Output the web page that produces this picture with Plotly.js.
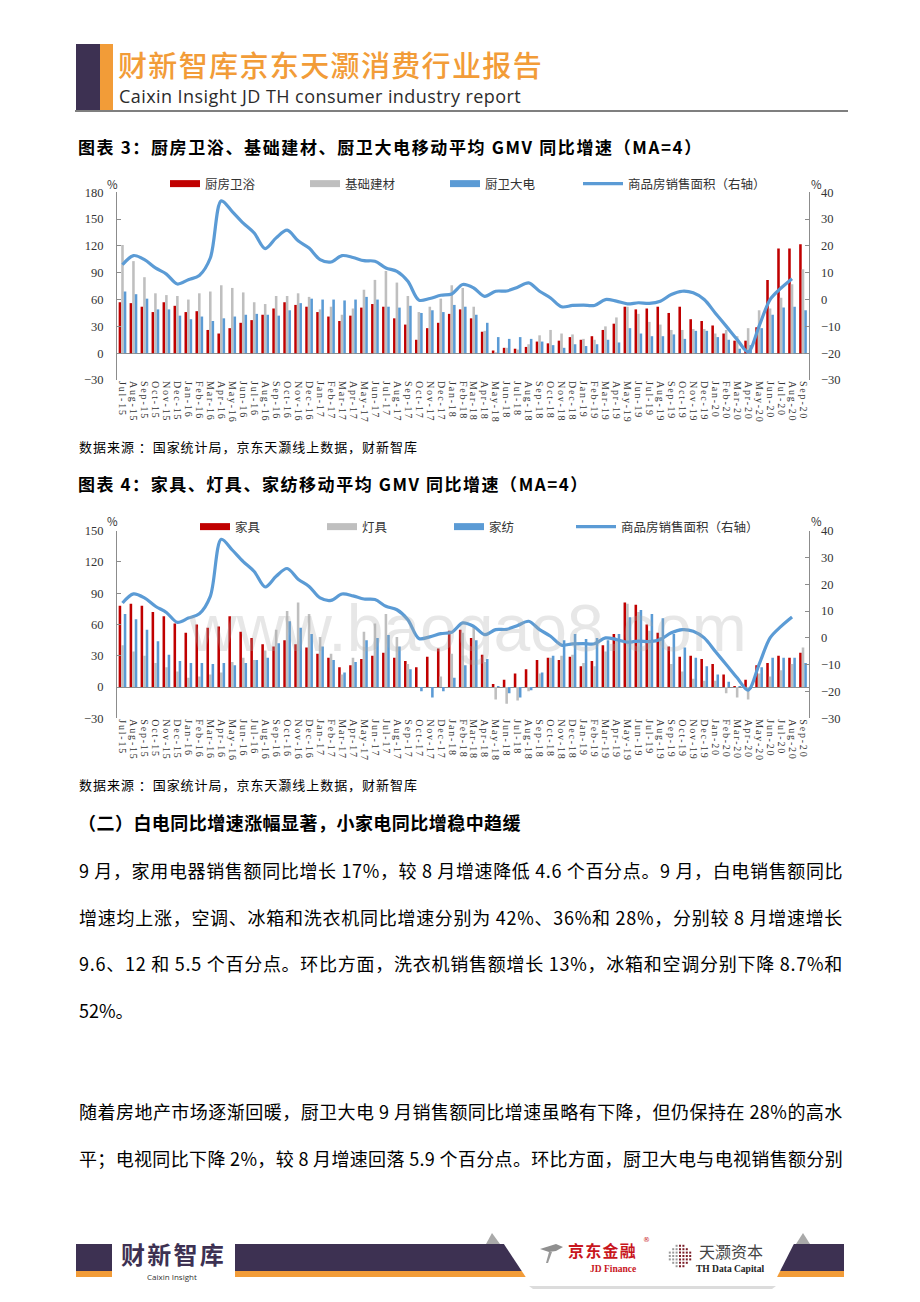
<!DOCTYPE html>
<html>
<head>
<meta charset="utf-8">
<script src="https://cdn.plot.ly/plotly-3.0.1.min.js"></script>
<style>
html,body{margin:0;padding:0;background:#fff;}
#page{width:920px;height:1302px;}
.xtick text, .x2tick text{letter-spacing:1.8px;}
</style>
</head>
<body>
<div id="page"></div>
<script>
// ---------------- data ----------------
const months = ["Jul-15","Aug-15","Sep-15","Oct-15","Nov-15","Dec-15",
  "Jan-16","Feb-16","Mar-16","Apr-16","May-16","Jun-16","Jul-16","Aug-16","Sep-16","Oct-16","Nov-16","Dec-16",
  "Jan-17","Feb-17","Mar-17","Apr-17","May-17","Jun-17","Jul-17","Aug-17","Sep-17","Oct-17","Nov-17","Dec-17",
  "Jan-18","Feb-18","Mar-18","Apr-18","May-18","Jun-18","Jul-18","Aug-18","Sep-18","Oct-18","Nov-18","Dec-18",
  "Jan-19","Feb-19","Mar-19","Apr-19","May-19","Jun-19","Jul-19","Aug-19","Sep-19","Oct-19","Nov-19","Dec-19",
  "Jan-20","Feb-20","Mar-20","Apr-20","May-20","Jun-20","Jul-20","Aug-20","Sep-20"];

// chart 3 (left axis, %)
const kitchenBath = [57,56,52,46,57,53, 46,47,26,22,28,34,37,43,50,57,54,52,
  46,41,36,42,51,55,52,39,32,15,28,34, 44,49,39,24,3,6,5,7,13,11,14,18,
  15,19,26,33,52,49,50,52,45,52,38,36, 31,22,14,14,29,82,117,117,122];
const buildingMaterials = [121,103,85,67,65,64, 60,67,69,76,73,68,57,55,64,64,67,63,
  49,52,43,50,71,82,92,79,64,46,52,61, 76,73,52,25,1,6,4,10,20,26,22,21,
  16,15,30,40,52,44,35,32,26,26,27,27, 22,26,19,28,48,50,62,77,94];
const kitchenAppliances = [69,66,61,49,49,42, 38,41,36,39,41,43,44,43,42,48,56,61,
  60,60,59,60,63,60,52,51,53,45,48,46, 54,52,43,34,18,16,18,16,13,9,6,10,
  8,10,15,12,28,22,19,19,21,16,25,25, 18,15,5,9,28,43,51,52,48];

// chart 4 (left axis, %)
const furniture = [78,80,78,72,68,61, 52,60,57,58,68,53,47,41,39,45,41,38,
  32,28,19,21,27,30,33,28,25,19,29,37, 54,55,47,31,3,7,13,17,26,28,26,29,
  20,25,40,51,81,79,60,52,39,29,30,27, 22,12,1,7,21,23,30,28,33];
const lighting = [40,34,30,23,19,15, 9,10,12,14,24,28,26,35,55,73,81,70,
  48,32,12,28,53,61,70,48,22,0,0,10, 32,52,58,24,-12,-16,-13,-4,13,28,30,31,
  23,20,34,46,80,72,54,48,22,15,8,6, 6,-6,-10,-12,13,10,16,22,38];
const homeTextiles = [70,65,55,44,31,25, 23,23,22,23,21,23,26,28,42,63,57,51,
  39,26,14,24,45,47,50,39,17,-4,-10,-4, 9,21,45,27,1,-6,-10,-3,14,30,45,51,
  46,47,45,51,67,74,70,66,51,38,28,20, 12,5,1,-2,19,28,28,28,23];

// commercial housing sales area (right axis, %)
const housingArea = [13,16.4,14.9,11.8,9.5,5.8, 7.4,9,15.5,36.8,32.8,28.5,24.8,19,23,25.9,21.9,19.2,
  14.9,14,16.4,15.7,14.5,14.3,11.8,10.5,6.8,-0.2,0.4,1.6, 2.1,5.6,4.3,1.2,3.1,3.2,4.6,6.2,3.1,0.6,-2.7,-2.2,
  -2.1,-2.2,0,-0.6,-1.6,-1.2,-1.4,-0.6,1.9,3.1,2.5,0, -5,-9.9,-14.9,-19.5,-9.9,0,4.3,7.8,null];

const names1 = ["厨房卫浴","基础建材","厨卫大电"];
const names2 = ["家具","灯具","家纺"];
const lineName = "商品房销售面积（右轴）";
const leftTicks1 = [-30,0,30,60,90,120,150,180];
const leftTicks2 = [-30,0,30,60,90,120,150];
const rightTicks = [-30,-20,-10,0,10,20,30,40];

// ---------------- styling ----------------
const W = 920, H = 1302;
const X = p => p / W, Y = p => 1 - p / H;
const RED = "#C00000", GRAY = "#BFBFBF", BLUE = "#5B9BD5";
const AX = "#8c8c8c";
const CJK = "Noto Sans CJK SC";
const SERIF = "Liberation Serif";

function bar(y, name, color, xa, ya) {
  return {type:"bar", x:months, y:y, name:name, marker:{color:color}, xaxis:xa, yaxis:ya,
          showlegend:false, hoverinfo:"skip"};
}
function legendOnly(name, color, width, xa, ya, leg) {
  return {type:"scatter", mode:"lines", x:[months[0]], y:[null], name:name,
          line:{color:color, width:width}, xaxis:xa, yaxis:ya, legend:leg, hoverinfo:"skip"};
}
function houseLine(xa, ya, leg) {
  return {type:"scatter", mode:"lines", x:months, y:housingArea, name:lineName,
          line:{color:BLUE, width:3.2, shape:"spline", smoothing:0.9}, connectgaps:false,
          xaxis:xa, yaxis:ya, legend:leg, hoverinfo:"skip"};
}

const data = [
  bar(kitchenBath, names1[0], RED, "x", "y"),
  bar(buildingMaterials, names1[1], GRAY, "x", "y"),
  bar(kitchenAppliances, names1[2], BLUE, "x", "y"),
  legendOnly(names1[0], RED, 7, "x", "y", "legend"),
  legendOnly(names1[1], GRAY, 7, "x", "y", "legend"),
  legendOnly(names1[2], BLUE, 7, "x", "y", "legend"),
  houseLine("x", "y2", "legend3"),

  bar(furniture, names2[0], RED, "x2", "y3"),
  bar(lighting, names2[1], GRAY, "x2", "y3"),
  bar(homeTextiles, names2[2], BLUE, "x2", "y3"),
  legendOnly(names2[0], RED, 7, "x2", "y3", "legend2"),
  legendOnly(names2[1], GRAY, 7, "x2", "y3", "legend2"),
  legendOnly(names2[2], BLUE, 7, "x2", "y3", "legend2"),
  houseLine("x2", "y4", "legend4")
];

function xAxis(anchor) {
  return {domain:[X(117), X(808.5)], anchor:anchor, type:"category",
          tickmode:"array", tickvals:months, ticktext:months, tickangle:90,
          tickfont:{family:SERIF, size:10, color:"#333"},
          showline:false, showgrid:false, zeroline:false, ticks:"", fixedrange:true};
}
function yLeft(dom, range, ticks, anchor) {
  return {domain:dom, anchor:anchor, range:range, tickmode:"array", tickvals:ticks,
          showline:true, linecolor:AX, linewidth:1, ticks:"inside", ticklen:4, tickcolor:AX,
          showgrid:false, zeroline:true, zerolinecolor:AX, zerolinewidth:1,
          tickfont:{family:SERIF, size:12.5, color:"#333"}, ticklabelstandoff:10, fixedrange:true};
}
function yRight(over, anchor) {
  return {overlaying:over, side:"right", anchor:anchor, range:[-30,40], tickmode:"array", tickvals:rightTicks,
          showline:true, linecolor:AX, linewidth:1, ticks:"inside", ticklen:4, tickcolor:AX,
          showgrid:false, zeroline:false,
          tickfont:{family:SERIF, size:12.5, color:"#333"}, ticklabelstandoff:9, fixedrange:true};
}

// justify targets: annotation index -> right edge in px
const justify = {};
const annotations = [];
function txt(s, x, y, size, opts, rightEdge) {
  const a = {text:s, x:X(x), y:Y(y), xref:"paper", yref:"paper", xanchor:"left", yanchor:"middle", align:"left",
             showarrow:false, font:{family:CJK, size:size, color:"#000"}};
  Object.assign(a, opts || {});
  if (rightEdge) justify[annotations.length] = rightEdge;
  annotations.push(a);
}

// header
txt("财新智库京东天灏消费行业报告", 116, 63.5, 29, {font:{family:CJK, size:29, color:"#F29C38", weight:500}}, 543);
txt("Caixin Insight JD TH consumer industry report", 117, 96, 18, {font:{family:"Open Sans", size:18, color:"#2b2b2b"}}, 521);
// chart 3
txt("<b>图表 3：厨房卫浴、基础建材、厨卫大电移动平均 GMV 同比增速（MA=4）</b>", 76, 146, 17, null, 703);
txt("%", 105, 184, 11.5, {font:{family:CJK, size:11.5, color:"#333"}});
txt("%", 809, 184, 11.5, {font:{family:CJK, size:11.5, color:"#333"}});
txt("数据来源 ：国家统计局，京东天灏线上数据，财新智库", 77, 446, 13, null, 418);
// chart 4
txt("<b>图表 4：家具、灯具、家纺移动平均 GMV 同比增速（MA=4）</b>", 76, 483, 17, null, 589);
txt("%", 105, 521, 11.5, {font:{family:CJK, size:11.5, color:"#333"}});
txt("%", 809, 521, 11.5, {font:{family:CJK, size:11.5, color:"#333"}});
txt("数据来源 ：国家统计局，京东天灏线上数据，财新智库", 77, 784, 13, null, 418);
// watermark
annotations.push({text:"www.baogao8.com", x:X(468), y:Y(628), xref:"paper", yref:"paper", showarrow:false,
   xanchor:"center", yanchor:"middle", font:{family:"Liberation Sans", size:66, color:"rgba(170,170,170,0.28)"}});
// section
txt("<b>（二）白电同比增速涨幅显著，小家电同比增稳中趋缓</b>", 76, 822, 18, null, 521);
txt("9 月，家用电器销售额同比增长 17%，较 8 月增速降低 4.6 个百分点。9 月，白电销售额同比", 77, 870, 18, null, 843);
txt("增速均上涨，空调、冰箱和洗衣机同比增速分别为 42%、36%和 28%，分别较 8 月增速增长", 77, 917, 18, null, 843);
txt("9.6、12 和 5.5 个百分点。环比方面，洗衣机销售额增长 13%，冰箱和空调分别下降 8.7%和", 77, 963, 18, null, 843);
txt("52%。", 77, 1010, 18);
txt("随着房地产市场逐渐回暖，厨卫大电 9 月销售额同比增速虽略有下降，但仍保持在 28%的高水", 77, 1111, 18, null, 843);
txt("平；电视同比下降 2%，较 8 月增速回落 5.9 个百分点。环比方面，厨卫大电与电视销售额分别", 77, 1158, 18, null, 843);
// footer logos
txt("<b>财新智库</b>", 119, 1253, 24, {font:{family:CJK, size:24, color:"#3D3152"}}, 226);
txt("Caixin Insight", 172, 1276, 8, {xanchor:"center", font:{family:"Open Sans", size:8, color:"#333"}});
txt("<b>京东金融</b>", 566, 1250, 16, {font:{family:CJK, size:16, color:"#C8161D"}}, 637);
txt("®", 641, 1240, 7, {font:{family:"DejaVu Sans", size:7, color:"#C8161D"}});
txt("<b>JD Finance</b>", 638, 1269, 8.5, {xanchor:"right", font:{family:"Liberation Sans Narrow", size:9.5, color:"#C8161D"}});
txt("天灏资本", 697, 1251, 16, {font:{family:CJK, size:16, color:"#444"}}, 760);
txt("<b>TH Data Capital</b>", 694, 1269, 8.5, {font:{family:"Liberation Sans Narrow", size:9.5, color:"#222"}});

function rect(x0, y0, x1, y1, color) {
  return {type:"rect", xref:"paper", yref:"paper", x0:X(x0), x1:X(x1), y0:Y(y1), y1:Y(y0),
          fillcolor:color, line:{width:0}, layer:"below"};
}
function poly(pts, color, layer) {
  const d = "M" + pts.map(p => X(p[0]).toFixed(5) + "," + Y(p[1]).toFixed(5)).join(" L") + " Z";
  return {type:"path", xref:"paper", yref:"paper", path:d, fillcolor:color, line:{width:0}, layer:layer || "above"};
}
const PURPLE = "#3D3152", ORANGE = "#F29C38";
const shapes = [
  // header
  rect(76, 44, 100, 110, PURPLE),
  rect(100, 44, 113, 110, ORANGE),
  {type:"line", xref:"paper", yref:"paper", x0:X(75), x1:X(848), y0:Y(111), y1:Y(111), line:{color:"#555", width:1.5}},
  // footer band
  rect(76, 1244, 112, 1271, PURPLE),
  rect(76, 1271, 112, 1277, ORANGE),
  rect(235, 1244, 844, 1271, PURPLE),
  rect(235, 1271, 844, 1277, ORANGE),
  poly([[529,1286],[776,1286],[772,1289],[533,1289]], "#dcdcdc"),
  poly([[492,1226],[803,1226],[773,1285],[531,1285]], "#ffffff"),
  poly([[486,1244],[492,1233],[500,1244]], "#a9a9a9"),
  poly([[796,1244],[803,1233],[810,1244]], "#a9a9a9"),
  // simple bird emblem of JD Finance (decoration)
  poly([[540,1249],[556,1244],[563,1247],[556,1251],[549,1252]], "#8f8f8f"),
  poly([[549,1252],[546,1263],[548,1263],[552,1252]], "#9a9a9a")
];
// dotted emblem of TH Data Capital (decoration)
for (let i = 0; i < 7; i++) {
  for (let j = 0; j < 7; j++) {
    const cx = 680 + (i - 3) * 3.4, cy = 1256 + (j - 3) * 3.4;
    if ((i - 3) * (i - 3) + (j - 3) * (j - 3) <= 11) {
      const c = i >= 3 ? "#7b1e28" : "#9a9a9a";
      shapes.push({type:"rect", xref:"paper", yref:"paper", x0:X(cx - 1), x1:X(cx + 1), y0:Y(cy + 1), y1:Y(cy - 1),
                   fillcolor:c, line:{width:0}});
    }
  }
}

function legendBox(y, x, entry, itemw) {
  const l = {orientation:"h", x:X(x), y:Y(y), xanchor:"left", yanchor:"middle", xref:"paper", yref:"paper",
          itemwidth:itemw || 30, bgcolor:"rgba(0,0,0,0)",
          font:{family:CJK, size:12.5, color:"#333"}, traceorder:"normal", tracegroupgap:0};
  if (entry) { l.entrywidth = entry; l.entrywidthmode = "pixels"; }
  return l;
}

const layout = {
  width:W, height:H, margin:{l:0, r:0, t:0, b:0},
  paper_bgcolor:"#fff", plot_bgcolor:"rgba(0,0,0,0)",
  barmode:"group", bargap:0.3, bargroupgap:0,
  showlegend:true,
  legend:legendBox(184, 165, 95),
  legend3:legendBox(184, 578, 0, 40),
  legend2:legendBox(527, 195, 82),
  legend4:legendBox(527, 571, 0, 40),
  xaxis:xAxis("y"),
  yaxis:yLeft([Y(380), Y(192.3)], [-30,180], leftTicks1, "x"),
  yaxis2:yRight("y", "x"),
  xaxis2:xAxis("y3"),
  yaxis3:yLeft([Y(718.3), Y(530.7)], [-30,150], leftTicks2, "x2"),
  yaxis4:yRight("y3", "x2"),
  annotations:annotations,
  shapes:shapes,
  hovermode:false
};

Plotly.newPlot("page", data, layout, {staticPlot:true, displayModeBar:false}).then(function (gd) {
  // emulate the justified paragraph layout of the report
  try {
    const root = gd.getBoundingClientRect();
    Object.keys(justify).forEach(function (k) {
      const t = gd.querySelector('g.annotation[data-index="' + k + '"] text.annotation-text');
      if (!t) return;
      const r = t.getBoundingClientRect();
      const n = t.textContent.length;
      const sp = (justify[k] - (r.right - root.left)) / n;
      if (sp > 0 && sp < 6) t.style.letterSpacing = sp.toFixed(2) + "px";
    });
  } catch (e) {}
});
</script>
</body>
</html>
